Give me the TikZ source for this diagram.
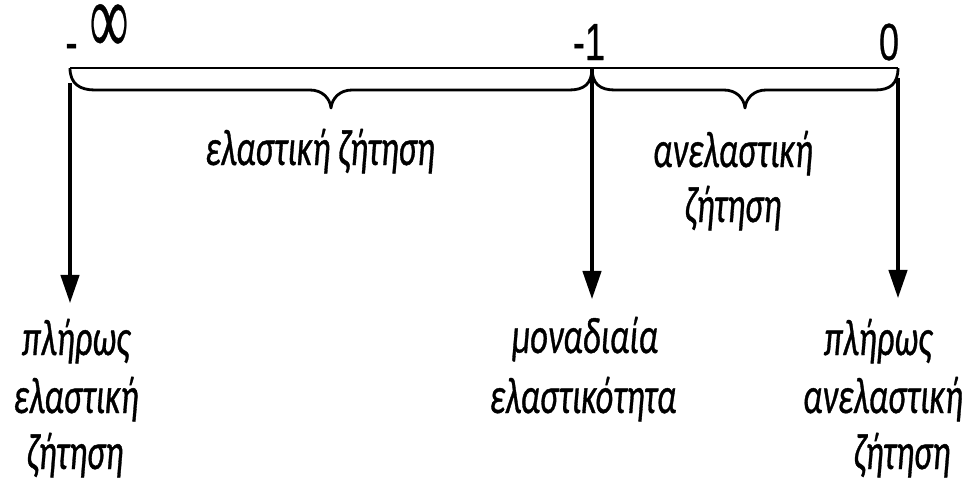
\documentclass[tikz,border=0pt]{standalone}
\usepackage{fontspec}
\setmainfont{Carlito}[FakeBold=0.9]
\newfontfamily\numfont{Liberation Sans}[FakeBold=0.6]
\newfontfamily\symfont{Liberation Serif}[FakeBold=0.4]
\usetikzlibrary{arrows.meta}
\begin{document}
\begin{tikzpicture}[x=0.02cm,y=-0.02cm,
  lbl/.style={font=\fontsize{19.5}{22}\selectfont\itshape, inner sep=0pt, yscale=1.5, anchor=base},
  num/.style={font=\numfont\fontsize{20.5}{24}\selectfont, inner sep=0pt, yscale=1.45, anchor=base},
  axisline/.style={line width=1.6pt},
  bracepath/.style={line width=1.6pt, line join=round},
  downarrow/.style={line width=1.8pt, -{Triangle[width=10.5pt,length=16pt]}}]
\useasboundingbox (0,0) rectangle (971,485);

% points of the scale
\coordinate (ninf) at (70,68);
\coordinate (mone) at (592,68);
\coordinate (zero) at (898,68);

% axis
\draw[axisline] (ninf) -- (zero);

% brace under the elastic range
\draw[bracepath] (ninf) .. controls (70,84) and (80,90) .. (95,90) -- (310,90)
  .. controls (322,90) and (330,98) .. (331,108)
  .. controls (332,98) and (340,90) .. (352,90) -- (569,90)
  .. controls (584,90) and (592,84) .. (mone);
% brace under the inelastic range
\draw[bracepath] (mone) .. controls (592,84) and (600,90) .. (615,90) -- (724,90)
  .. controls (736,90) and (744,98) .. (745,108)
  .. controls (746,98) and (754,90) .. (766,90) -- (875,90)
  .. controls (890,90) and (898,84) .. (zero);

% values on the scale
\node[num] (ndash) at (71.5,60) {-};
\node[font=\symfont\fontsize{31}{32}\selectfont, inner sep=0pt, yscale=1.9] (ninfty) at (109,29) {∞};
\node[num] (nmone) at (589,60) {-1};
\node[num] (nzero) at (889,60) {0};

% range labels
\node[lbl] (tel) at (320,165) {ελαστική ζήτηση};
\node[lbl] (tinela) at (733,167) {ανελαστική};
\node[lbl] (tinelb) at (733,222) {ζήτηση};

% arrows down to the limiting cases
\coordinate (a1s) at (70,83);  \coordinate (a1e) at (70,303);
\coordinate (a2s) at (592,68); \coordinate (a2e) at (592,299);
\coordinate (a3s) at (898,78); \coordinate (a3e) at (898,298);
\draw[downarrow] (a1s) -- (a1e);
\draw[downarrow] (a2s) -- (a2e);
\draw[downarrow] (a3s) -- (a3e);

% limiting cases
\node[lbl] (l1a) at (76,355) {πλήρως};
\node[lbl] (l1b) at (76,413) {ελαστική};
\node[lbl] (l1c) at (75,469) {ζήτηση};

\node[lbl] (m1a) at (585,353) {μοναδιαία};
\node[lbl] (m1b) at (583,413) {ελαστικότητα};

\node[lbl] (r1a) at (878,355) {πλήρως};
\node[lbl] (r1b) at (883,413) {ανελαστική};
\node[lbl] (r1c) at (902,469) {ζήτηση};
\end{tikzpicture}
\end{document}
